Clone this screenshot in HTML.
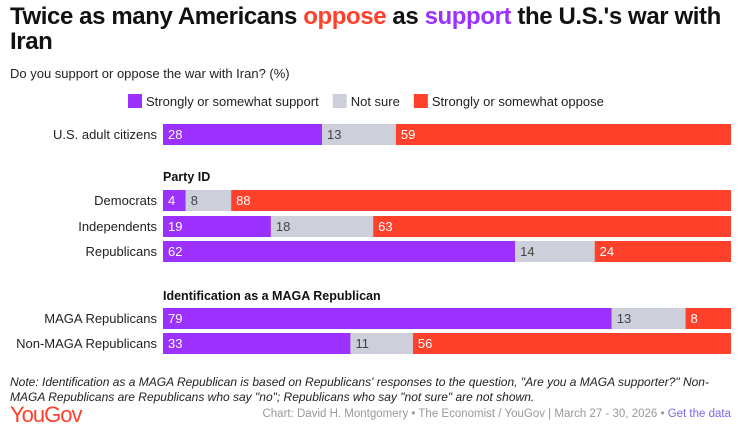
<!DOCTYPE html>
<html><head><meta charset="utf-8"><style>
body{margin:0;width:739px;height:432px;background:#fff;font-family:"Liberation Sans",sans-serif;overflow:hidden;position:relative}
.t{position:absolute;left:10px;top:4px;width:725px;font-size:24px;font-weight:bold;line-height:25px;color:#111;letter-spacing:-0.4px}
.sub{position:absolute;left:10px;top:66px;font-size:13px;color:#222}
.note{position:absolute;left:10px;top:375px;font-size:12px;font-style:italic;color:#222;line-height:15px;width:715px}
.logo{position:absolute;left:10px;top:402px;font-size:22px;color:#ff412c;letter-spacing:-1px}
.credit{position:absolute;right:8px;top:408px;font-size:11.5px;color:#999}
</style></head><body>
<div class="t">Twice as many Americans <span style="color:#ff412c">oppose</span> as <span style="color:#9b30ff">support</span> the U.S.'s war with Iran</div>
<div class="sub">Do you support or oppose the war with Iran? (%)</div>
<svg id="c" width="739" height="432" style="position:absolute;left:0;top:0"></svg>
<div class="note">Note: Identification as a MAGA Republican is based on Republicans' responses to the question, "Are you a MAGA supporter?" Non-MAGA Republicans are Republicans who say "no"; Republicans who say "not sure" are not shown.</div>
<div class="logo">YouGov</div>
<div class="credit">Chart: David H. Montgomery • The Economist / YouGov | March 27 - 30, 2026 • <span style="color:#7b68ee">Get the data</span></div>
<script>
const categories=["U.S. adult citizens","Democrats","Independents","Republicans","MAGA Republicans","Non-MAGA Republicans"];
const support=[28,4,19,62,79,33];
const notSure=[13,8,18,14,13,11];
const oppose=[59,88,63,24,8,56];
const seriesNames=["Strongly or somewhat support","Not sure","Strongly or somewhat oppose"];
const colors=["#9b30ff","#cdd0da","#ff412c"];
const textColors=["#fff","#444","#fff"];
const rowTops=[124,190,216,241,308,333];
const x0=163,scale=5.68,bh=21;
const svg=document.getElementById('c');
const NS='http://www.w3.org/2000/svg';
function X(v){return x0+v*scale;}
function add(tag,attrs,txt){const e=document.createElementNS(NS,tag);for(const k in attrs)e.setAttribute(k,attrs[k]);if(txt!==undefined)e.textContent=txt;svg.appendChild(e);return e;}
let lx=128;
seriesNames.forEach((n,i)=>{
  const r=add('rect',{x:lx,y:94,width:14,height:14,fill:colors[i]});
  
  
  const t=add('text',{x:lx+18,y:106,'font-size':13,fill:'#222'},n);
  
  
  lx+=18+t.getComputedTextLength()+14;
});
[["Party ID",181],["Identification as a MAGA Republican",300]].forEach(h=>{
  const t=add('text',{x:x0,y:h[1],'font-size':12.5,'font-weight':'bold',fill:'#111'},h[0]);
  
  
});
categories.forEach((c,i)=>{
  const y=rowTops[i];
  const l=add('text',{x:x0-6,y:y+15,'font-size':13,fill:'#222','text-anchor':'end'},c);
  
  
  const vals=[support[i],notSure[i],oppose[i]];
  let acc=0;
  vals.forEach((v,j)=>{
    const r=add('rect',{x:X(acc),y:y,width:X(acc+v)-X(acc),height:bh,fill:colors[j]});
    
    
    const t=add('text',{x:X(acc)+5,y:y+15,'font-size':13,fill:textColors[j]},v);
    
    
    acc+=v;
  });
});
</script>
</body></html>
